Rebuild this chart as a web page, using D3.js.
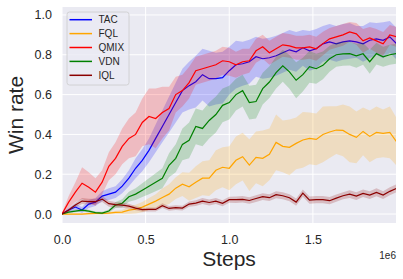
<!DOCTYPE html>
<html>
<head>
<meta charset="utf-8">
<script src="https://cdn.jsdelivr.net/npm/d3@7"></script>
<style>
  body { margin: 0; background: #fff; }
  svg { display: block; font-family: "Liberation Sans", Arial, sans-serif; }
</style>
</head>
<body>
<div id="graph"></div>
<script>
// Sample grid: one reading every 0.04e6 steps from 0 to 2e6
const steps = d3.range(51).map(i => i * 40000);

const names = ["TAC", "FQL", "QMIX", "VDN", "IQL"];
const colors = ["#0000ff", "#ffa500", "#ff0000", "#008000", "#8b0000"];

// Mean win rate per series
const tacMean = [0, 0.02, 0.035, 0.02, 0.05, 0.06, 0.09, 0.10, 0.11, 0.14,
  0.18, 0.23, 0.27, 0.32, 0.38, 0.44, 0.50, 0.56, 0.62, 0.645,
  0.665, 0.70, 0.68, 0.68, 0.685, 0.72, 0.75, 0.755, 0.765, 0.79,
  0.78, 0.785, 0.795, 0.81, 0.825, 0.815, 0.835, 0.82, 0.83, 0.855,
  0.865, 0.855, 0.865, 0.87, 0.865, 0.855, 0.873, 0.88, 0.873, 0.89, 0.856];
const fqlMean = [0, 0, 0, 0, 0.002, 0.003, 0.003, 0.005, 0.008, 0.01,
  0.02, 0.025, 0.035, 0.05, 0.065, 0.083, 0.10, 0.13, 0.15, 0.137,
  0.16, 0.18, 0.18, 0.22, 0.235, 0.23, 0.27, 0.288, 0.246, 0.285,
  0.28, 0.30, 0.36, 0.34, 0.335, 0.355, 0.372, 0.38, 0.375, 0.40,
  0.412, 0.422, 0.42, 0.40, 0.385, 0.415, 0.39, 0.41, 0.405, 0.41, 0.363];
const qmixMean = [0, 0.06, 0.11, 0.155, 0.135, 0.11, 0.16, 0.24, 0.28, 0.34,
  0.38, 0.40, 0.46, 0.49, 0.48, 0.51, 0.53, 0.60, 0.62, 0.66,
  0.72, 0.73, 0.74, 0.75, 0.77, 0.765, 0.75, 0.765, 0.77, 0.82,
  0.84, 0.81, 0.83, 0.85, 0.845, 0.835, 0.835, 0.84, 0.83, 0.856,
  0.88, 0.89, 0.90, 0.915, 0.905, 0.87, 0.885, 0.87, 0.855, 0.90, 0.89];
const vdnMean = [0, 0.01, 0.015, 0.02, 0.015, 0.007, 0.005, 0.015, 0.045, 0.054,
  0.087, 0.10, 0.12, 0.14, 0.16, 0.18, 0.245, 0.28, 0.35, 0.37,
  0.44, 0.43, 0.47, 0.50, 0.546, 0.56, 0.60, 0.62, 0.56, 0.565,
  0.63, 0.663, 0.71, 0.745, 0.714, 0.672, 0.70, 0.74, 0.73, 0.747,
  0.78, 0.80, 0.805, 0.806, 0.795, 0.805, 0.765, 0.806, 0.79, 0.80, 0.806];
const iqlMean = [0, 0.02, 0.045, 0.065, 0.062, 0.062, 0.075, 0.052, 0.047, 0.045,
  0.04, 0.03, 0.022, 0.023, 0.023, 0.042, 0.028, 0.032, 0.03, 0.05,
  0.055, 0.065, 0.058, 0.065, 0.054, 0.072, 0.072, 0.074, 0.068, 0.078,
  0.087, 0.082, 0.097, 0.092, 0.082, 0.06, 0.105, 0.07, 0.072, 0.072,
  0.067, 0.08, 0.092, 0.10, 0.09, 0.104, 0.095, 0.109, 0.095, 0.114, 0.129];

// Half-width of the shaded band per series
const tacBand = [0.005, 0.01, 0.015, 0.015, 0.02, 0.02, 0.025, 0.03, 0.03, 0.035,
  0.04, 0.05, 0.055, 0.06, 0.07, 0.08, 0.09, 0.10, 0.11, 0.12,
  0.13, 0.13, 0.14, 0.13, 0.13, 0.12, 0.12, 0.11, 0.11, 0.10,
  0.10, 0.10, 0.10, 0.10, 0.10, 0.10, 0.09, 0.10, 0.10, 0.09,
  0.09, 0.09, 0.09, 0.09, 0.08, 0.09, 0.09, 0.08, 0.09, 0.08, 0.08];
const fqlBand = [0.003, 0.003, 0.004, 0.004, 0.005, 0.005, 0.005, 0.006, 0.008, 0.01,
  0.02, 0.022, 0.026, 0.03, 0.035, 0.045, 0.05, 0.055, 0.06, 0.07,
  0.08, 0.085, 0.09, 0.10, 0.10, 0.11, 0.12, 0.12, 0.13, 0.13,
  0.14, 0.13, 0.14, 0.13, 0.14, 0.13, 0.14, 0.13, 0.13, 0.14,
  0.13, 0.12, 0.13, 0.14, 0.13, 0.12, 0.13, 0.13, 0.12, 0.13, 0.12];
const qmixBand = [0.005, 0.03, 0.05, 0.08, 0.075, 0.07, 0.06, 0.07, 0.08, 0.09,
  0.10, 0.11, 0.12, 0.14, 0.15, 0.13, 0.11, 0.09, 0.08, 0.08,
  0.07, 0.07, 0.07, 0.07, 0.07, 0.07, 0.065, 0.065, 0.06, 0.06,
  0.06, 0.06, 0.06, 0.06, 0.06, 0.06, 0.06, 0.06, 0.06, 0.06,
  0.055, 0.055, 0.055, 0.05, 0.055, 0.06, 0.055, 0.06, 0.06, 0.05, 0.05];
const vdnBand = [0.003, 0.005, 0.006, 0.007, 0.007, 0.006, 0.006, 0.008, 0.015, 0.02,
  0.025, 0.03, 0.035, 0.04, 0.045, 0.05, 0.06, 0.07, 0.08, 0.09,
  0.09, 0.09, 0.09, 0.09, 0.085, 0.085, 0.08, 0.08, 0.085, 0.085,
  0.08, 0.08, 0.08, 0.08, 0.085, 0.09, 0.085, 0.08, 0.075, 0.07,
  0.065, 0.06, 0.06, 0.06, 0.06, 0.055, 0.06, 0.055, 0.05, 0.05, 0.05];
const iqlBand = [0.003, 0.008, 0.012, 0.015, 0.015, 0.015, 0.015, 0.015, 0.014, 0.013,
  0.012, 0.011, 0.01, 0.01, 0.01, 0.012, 0.012, 0.012, 0.012, 0.013,
  0.014, 0.015, 0.015, 0.015, 0.015, 0.015, 0.016, 0.016, 0.016, 0.017,
  0.017, 0.017, 0.018, 0.018, 0.018, 0.018, 0.018, 0.018, 0.018, 0.018,
  0.018, 0.018, 0.018, 0.019, 0.019, 0.019, 0.019, 0.02, 0.02, 0.02, 0.02];

const xTicks = [0, 0.5e6, 1e6, 1.5e6];
const yTicks = [0, 0.2, 0.4, 0.6, 0.8, 1.0];

const means = [tacMean, fqlMean, qmixMean, vdnMean, iqlMean];
const bands = [tacBand, fqlBand, qmixBand, vdnBand, iqlBand];

const width = 403;
const height = 279;
const plotLeft = 62, plotRight = 396, plotTop = 7, plotBottom = 223;

const x = d3.scaleLinear().domain([0, 2e6]).range([62, 396.5]);
const y = d3.scaleLinear().domain([-0.045, 1.04]).range([plotBottom, plotTop]);

const svg = d3.create("svg")
    .attr("width", width)
    .attr("height", height);

svg.append("defs").append("clipPath").attr("id", "clip")
  .append("rect")
    .attr("x", plotLeft).attr("y", plotTop)
    .attr("width", plotRight - plotLeft).attr("height", plotBottom - plotTop);

// Axes background
svg.append("rect")
    .attr("x", plotLeft).attr("y", plotTop)
    .attr("width", plotRight - plotLeft).attr("height", plotBottom - plotTop)
    .attr("fill", "#eaeaf2");

// Grid lines
svg.append("g")
  .selectAll("line")
  .data(xTicks)
  .join("line")
    .attr("x1", d => x(d)).attr("x2", d => x(d))
    .attr("y1", plotTop).attr("y2", plotBottom)
    .attr("stroke", "#fff").attr("stroke-width", 1);

svg.append("g")
  .selectAll("line")
  .data(yTicks)
  .join("line")
    .attr("x1", plotLeft).attr("x2", plotRight)
    .attr("y1", d => y(d)).attr("y2", d => y(d))
    .attr("stroke", "#fff").attr("stroke-width", 1);

// Tick labels via d3 axes (no tick lines, no domain)
const xAxis = d3.axisBottom(x).tickValues(xTicks).tickSize(0).tickPadding(12)
    .tickFormat(d => (d / 1e6).toFixed(1));
const yAxis = d3.axisLeft(y).tickValues(yTicks).tickSize(0).tickPadding(10)
    .tickFormat(d3.format(".1f"));

svg.append("g")
    .attr("transform", `translate(0,${plotBottom})`)
    .call(xAxis)
    .call(g => g.select(".domain").remove())
    .call(g => g.selectAll("text")
        .attr("font-size", 12.5)
        .attr("font-family", "Liberation Sans, Arial, sans-serif")
        .attr("fill", "#262626"));

svg.append("g")
    .attr("transform", `translate(${plotLeft},0)`)
    .call(yAxis)
    .call(g => g.select(".domain").remove())
    .call(g => g.selectAll("text")
        .attr("font-size", 12.5)
        .attr("font-family", "Liberation Sans, Arial, sans-serif")
        .attr("fill", "#262626"));

// Series: band then line
const plot = svg.append("g").attr("clip-path", "url(#clip)");

names.forEach((name, k) => {
    const pts = steps.map((s, i) => ({ s, m: means[k][i], b: bands[k][i] }));
    const area = d3.area()
        .x(d => x(d.s))
        .y0(d => y(d.m - d.b))
        .y1(d => y(d.m + d.b));
    const line = d3.line()
        .x(d => x(d.s))
        .y(d => y(d.m));
    plot.append("path")
        .attr("d", area(pts))
        .attr("fill", colors[k])
        .attr("fill-opacity", 0.2);
    plot.append("path")
        .attr("d", line(pts))
        .attr("fill", "none")
        .attr("stroke", colors[k])
        .attr("stroke-width", 1.2);
});

// Axis labels
svg.append("text")
    .attr("x", (plotLeft + plotRight) / 2)
    .attr("y", 266)
    .attr("text-anchor", "middle")
    .attr("font-size", 21)
    .attr("fill", "#262626")
    .text("Steps");

svg.append("text")
    .attr("transform", `translate(23,${(plotTop + plotBottom) / 2}) rotate(-90)`)
    .attr("text-anchor", "middle")
    .attr("font-size", 21)
    .attr("fill", "#262626")
    .text("Win rate");

svg.append("text")
    .attr("x", plotRight)
    .attr("y", 259)
    .attr("text-anchor", "end")
    .attr("font-size", 10)
    .attr("fill", "#262626")
    .text("1e6");

// Legend
const legend = svg.append("g");
legend.append("rect")
    .attr("x", 67).attr("y", 12)
    .attr("width", 62).attr("height", 73)
    .attr("rx", 2.5)
    .attr("fill", "#eaeaf2")
    .attr("fill-opacity", 0.8)
    .attr("stroke", "#cccccc")
    .attr("stroke-width", 0.8);

names.forEach((name, k) => {
    const ly = 19.7 + k * 13.9;
    legend.append("line")
        .attr("x1", 69.5).attr("x2", 92)
        .attr("y1", ly).attr("y2", ly)
        .attr("stroke", colors[k])
        .attr("stroke-width", 1.5);
    legend.append("text")
        .attr("x", 98.5)
        .attr("y", ly + 3.5)
        .attr("font-size", 10)
        .attr("fill", "#262626")
        .text(name);
});

document.getElementById("graph").appendChild(svg.node());
</script>
</body>
</html>
